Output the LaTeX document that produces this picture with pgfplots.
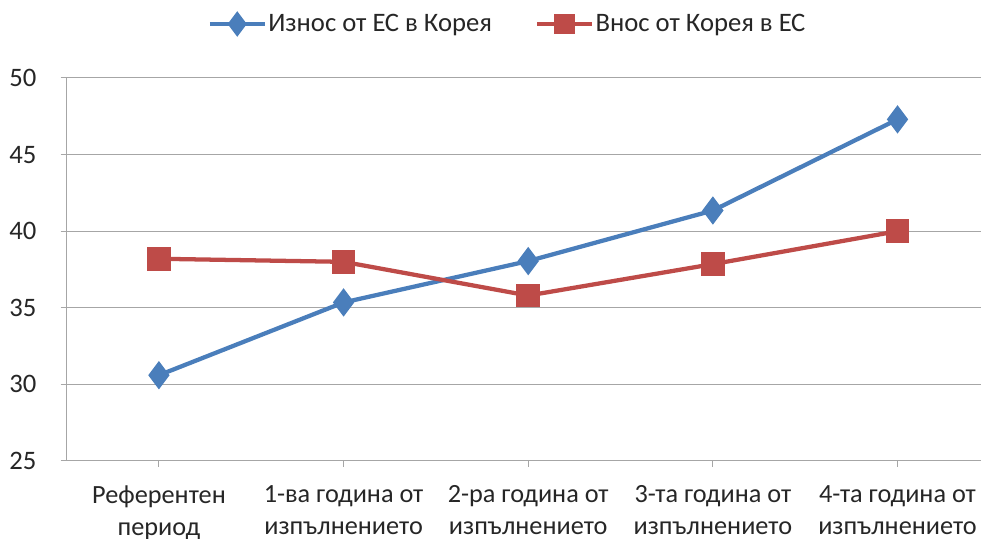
\documentclass[border=0pt]{standalone}
\usepackage{fontspec}
\setmainfont{Carlito}
\usepackage{pgfplots}
\pgfplotsset{compat=1.18}

\definecolor{blueline}{RGB}{74,126,187}
\definecolor{redline}{RGB}{190,75,72}
\definecolor{gridc}{RGB}{166,166,166}
\definecolor{txt}{RGB}{38,38,38}

\begin{document}
\begin{tikzpicture}
\begin{axis}[
  scale only axis,
  width=685.5pt, height=287.25pt,
  xmin=-0.5, xmax=4.45,
  ymin=25, ymax=50,
  ytick={25,30,...,50},
  xtick={0,1,2,3,4},
  xticklabels={{Референтен\\период},{1-ва година от\\изпълнението},{2-ра година от\\изпълнението},{3-та година от\\изпълнението},{4-та година от\\изпълнението}},
  xticklabel style={align=center, inner sep=0pt, yshift=-13.5pt, text=txt,
    font=\fontsize{19.7}{24}\selectfont},
  yticklabel style={inner sep=0pt, xshift=-18pt, text=txt,
    font=\fontsize{20}{24}\selectfont},
  /pgf/number format/assume math mode=true,
  axis x line*=bottom, axis y line*=left,
  axis line style={gridc, line width=0.75pt},
  ymajorgrids,
  major grid style={gridc, line width=0.75pt},
  tick align=outside,
  major tick length=4.5pt,
  tick style={gridc, line width=0.75pt},
  legend columns=2,
  legend style={draw=none, fill=none, at={(0.482,1.141)}, anchor=center,
    font=\fontsize{20}{24}\selectfont, text=txt,
    nodes={inner sep=1pt},
    /tikz/every even column/.append style={column sep=31pt}},
  legend image code/.code={\draw[mark repeat=2, mark phase=2, #1]
    plot coordinates {(0pt,0pt) (20.5pt,0pt) (41pt,0pt)};},
]
% legend samples with the smaller markers of the reference
\addlegendimage{blueline, line width=3.6pt, mark=diamond*, mark size=6.6pt, mark options={solid}}
\addlegendentry{Износ от ЕС в Корея}
\addlegendimage{redline, line width=3.6pt, mark=square*, mark size=6pt, mark options={solid}}
\addlegendentry{Внос от Корея в ЕС}

\addplot[forget plot, blueline, line width=3.2pt, mark=diamond*, mark size=8pt,
  mark options={solid}]
  coordinates {(0,30.6) (1,35.35) (2,38.05) (3,41.35) (4,47.3)};
\addplot[forget plot, redline, line width=3.2pt, mark=square*, mark size=7.2pt,
  mark options={solid}]
  coordinates {(0,38.2) (1,38.0) (2,35.8) (3,37.85) (4,40.0)};
\end{axis}
\pgfresetboundingbox
\path[shift={(current axis.south west)}] (-49.95pt,-58.5pt) rectangle (687.3pt,345.75pt);
\end{tikzpicture}
\end{document}
